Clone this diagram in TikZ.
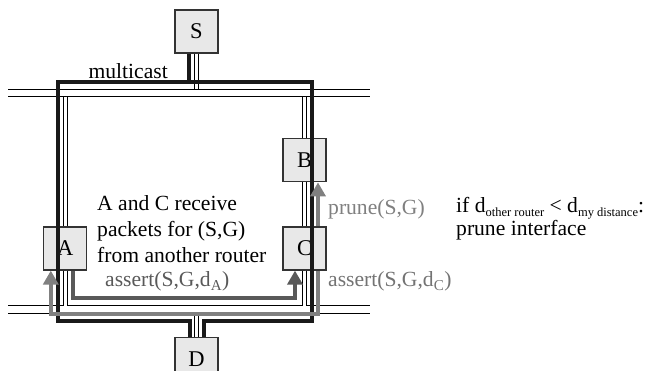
\documentclass[tikz,border=0pt]{standalone}
\usepackage{fontspec}
\setmainfont{Liberation Serif}
\usetikzlibrary{positioning,calc,arrows.meta}
\newcommand{\smallsub}[1]{\raisebox{-4.5pt}{\fontsize{12.5}{13}\selectfont #1}}

\begin{document}
\begin{tikzpicture}[
        x=1pt, y=-1pt,
        every node/.style={font=\fontsize{21.6}{26}\selectfont, inner sep=0pt},
        router/.style={draw=black!80, line width=1.2pt, fill=black!9,
          minimum size=43pt, font=\fontsize{22.5}{26}\selectfont},
        netline/.style={draw=black, line width=1pt, double=white, double distance=6.4pt},
        link/.style={draw=black, line width=0.9pt, double=white, double distance=3.1pt},
        mcast/.style={draw=black!90, line width=4pt},
        darkpath/.style={draw=black!65, line width=3.5pt, -{Triangle[width=15pt,length=14pt]}},
        lightpath/.style={draw=black!50, line width=3.5pt, -{Triangle[width=15pt,length=14pt]}}
      ]
  \useasboundingbox (0,0) rectangle (669,371);

  % the two networks
  \coordinate (top net) at (8,93);
  \coordinate (top end) at (370,93);
  \coordinate (bot net) at (8,309.5);
  \coordinate (bot end) at (370,309.5);
  \coordinate (top hi) at (8,89.3);
  \coordinate (top lo) at (8,96.7);
  \coordinate (bot hi) at (8,305.8);
  \coordinate (bot lo) at (8,313.2);
  \draw[netline] (top net) -- (top end);
  \draw[netline] (bot net) -- (bot end);

  % routers
  \node[router] (s) at (196.5,31.5) {S};
  \node[router, below=283pt of s] (d) {D};
  \node[router] (c) at (304.5,248.5) {C};
  \node[router, above=44pt of c] (b) {B};
  \node[router, left=195pt of c] (a) {A};

  \draw[link] (s.south) -- (s.south |- top hi);
  \draw[link] (a.north |- top lo) -- (a.north);
  \draw[link] (a.south) -- (a.south |- bot hi);
  \draw[link] (b.north |- top lo) -- (b.north);
  \draw[link] (b) -- (c);
  \draw[link] (c.south) -- (c.south |- bot hi);
  \draw[link] (d.north) -- (d.north |- bot lo);

  % multicast tree
  \coordinate (mcs) at ([xshift=-7.5pt]s.south);
  \coordinate (mca) at ([xshift=-7.5pt]a.center);
  \coordinate (mcc) at ([xshift=7.5pt]c.center);
  \coordinate (mcdl) at ([xshift=-6.5pt]d.north);
  \coordinate (mcdr) at ([xshift=7.5pt]d.north);
  \coordinate (mc top) at ([yshift=11pt]top net);
  \coordinate (mc bot) at ([yshift=-11.5pt]bot net);
  \coordinate (split) at (mcs |- mc top);
  \draw[mcast] (mcs) -- (split);
  \draw[mcast] (mcdr) |- (mcc |- mc bot) |- (mca |- mc top) |- (mcdl |- mc bot) -- (mcdl);
  \node[above left=3pt and 21pt of split] (mclabel) {multicast};

  % asserts and prune
  \coordinate (da low) at ([yshift=11.5pt]bot net);
  \coordinate (dc low) at ([yshift=-4.5pt]bot net);
  \draw[darkpath] ([xshift=7.5pt]a.south) |- ([xshift=-9.5pt]c.south |- da low)
    -- ([xshift=-9.5pt]c.south);
  \draw[lightpath] ([xshift=13.5pt]c.south) |- ([xshift=-14.5pt]a.south |- dc low)
    -- ([xshift=-14.5pt]a.south);
  \draw[lightpath] ([xshift=13.5pt]c.north) -- ([xshift=13.5pt]b.south);

  \node[align=left, anchor=north west] (info) at (97,195.5)
    {A and C receive\\packets for (S,G)\\from another router};
  \node[anchor=base west, text=black!65] (asserta) at (105,287)
    {assert(S,G,d\textsubscript{A})};
  \node[anchor=base west, text=black!55] (assertc) at (328,287)
    {assert(S,G,d\textsubscript{C})};
  \node[anchor=base west, text=black!50] (prunelabel) at (328,215) {prune(S,G)};
  \node[align=left, anchor=north west, font=\fontsize{21.6}{23}\selectfont] (rule) at (456,197)
    {if d\smallsub{other router} < d\smallsub{my distance}:\\prune interface};

\end{tikzpicture}
\end{document}
